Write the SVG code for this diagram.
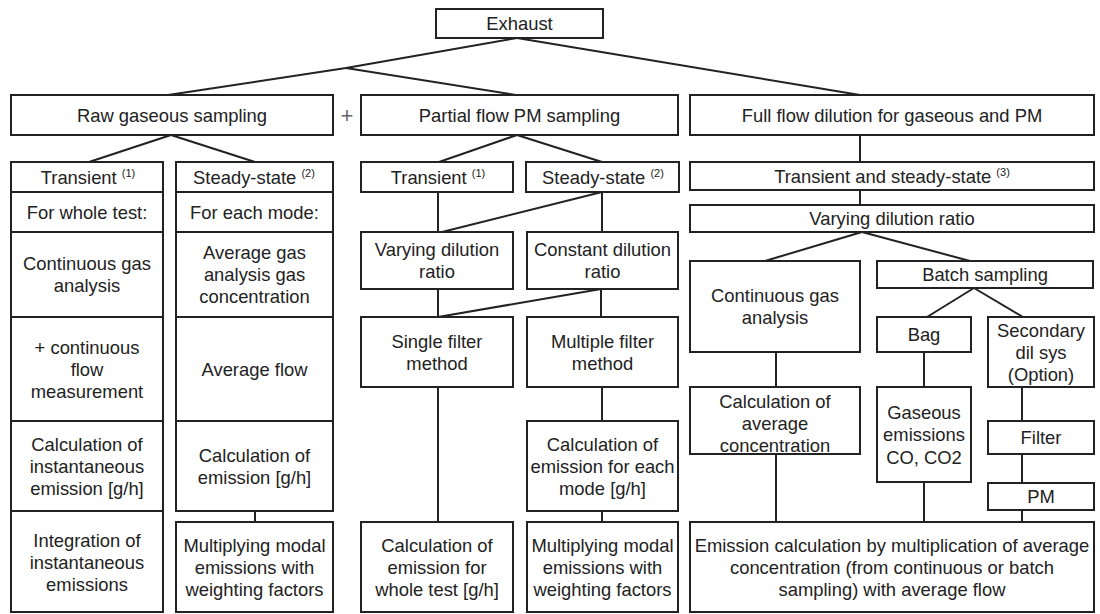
<svg xmlns="http://www.w3.org/2000/svg" width="1100" height="614" viewBox="0 0 1100 614">
<style>
rect.b{fill:#fff;stroke:#222;stroke-width:2}
text{font-family:"Liberation Sans",Arial,sans-serif;font-size:18.4px;fill:#222;text-anchor:middle}
tspan.sup{font-size:11px}
#connectors line{stroke:#222;stroke-width:2;fill:none}
.plus{font-size:22px;fill:#666}
</style>
<rect width="1100" height="614" fill="#fff"/>
<g id="connectors">
<line x1="517" y1="38" x2="346" y2="68"/>
<line x1="346" y1="68" x2="168" y2="95"/>
<line x1="346" y1="68" x2="516" y2="95"/>
<line x1="517" y1="38" x2="860" y2="95"/>
<line x1="171" y1="135" x2="89" y2="162"/>
<line x1="171" y1="135" x2="255" y2="162"/>
<line x1="517" y1="135" x2="439" y2="162"/>
<line x1="517" y1="135" x2="602" y2="162"/>
<line x1="860" y1="135" x2="860" y2="162"/>
<line x1="860" y1="190" x2="860" y2="205"/>
<line x1="438" y1="192" x2="438" y2="232"/>
<line x1="602" y1="192" x2="602" y2="232"/>
<line x1="602" y1="192" x2="442" y2="232"/>
<line x1="438" y1="289" x2="438" y2="317"/>
<line x1="601" y1="289" x2="601" y2="317"/>
<line x1="601" y1="289" x2="438" y2="317"/>
<line x1="438" y1="387" x2="438" y2="522"/>
<line x1="602" y1="387" x2="602" y2="421"/>
<line x1="602" y1="511" x2="602" y2="522"/>
<line x1="255" y1="511" x2="255" y2="522"/>
<line x1="862" y1="232" x2="765" y2="261"/>
<line x1="862" y1="232" x2="970" y2="261"/>
<line x1="974" y1="288" x2="927" y2="317"/>
<line x1="974" y1="288" x2="1023" y2="317"/>
<line x1="776" y1="352" x2="776" y2="387"/>
<line x1="924" y1="352" x2="924" y2="387"/>
<line x1="1022" y1="387" x2="1022" y2="421"/>
<line x1="1022" y1="454" x2="1022" y2="483"/>
<line x1="1022" y1="510" x2="1022" y2="522"/>
<line x1="776" y1="454" x2="776" y2="522"/>
<line x1="924" y1="482" x2="924" y2="522"/>
</g>
<g id="exhaust"><rect class="b" x="436" y="9" width="167" height="29"/><text x="519.5" y="30">Exhaust</text></g>
<g id="raw"><rect class="b" x="11" y="95" width="322" height="40"/><text x="172" y="121.5">Raw gaseous sampling</text></g>
<text class="plus" x="347" y="123">+</text>
<g id="partial"><rect class="b" x="361" y="95" width="317" height="40"/><text x="519.5" y="121.5">Partial flow PM sampling</text></g>
<g id="fullflow"><rect class="b" x="690" y="95" width="404" height="40"/><text x="892" y="121.5">Full flow dilution for gaseous and PM</text></g>

<g id="raw-transient"><rect class="b" x="11" y="162" width="152" height="30"/><text x="88" y="183.5">Transient <tspan class="sup" dy="-7">(1)</tspan></text></g>
<g id="raw-steady"><rect class="b" x="176" y="162" width="157" height="30"/><text x="254" y="183.5">Steady-state <tspan class="sup" dy="-7">(2)</tspan></text></g>
<g id="pf-transient"><rect class="b" x="361" y="162" width="152" height="30"/><text x="438" y="183.5">Transient <tspan class="sup" dy="-7">(1)</tspan></text></g>
<g id="pf-steady"><rect class="b" x="526" y="162" width="153" height="30"/><text x="603" y="183.5">Steady-state <tspan class="sup" dy="-7">(2)</tspan></text></g>
<g id="ff-transient"><rect class="b" x="690" y="162" width="404" height="28"/><text x="892" y="182.5">Transient and steady-state <tspan class="sup" dy="-7">(3)</tspan></text></g>

<g id="whole-test"><rect class="b" x="11" y="192" width="152" height="40"/><text x="87" y="218.5">For whole test:</text></g>
<g id="cont-gas"><rect class="b" x="11" y="232" width="152" height="85"/><text x="87" y="269.5">Continuous gas</text><text x="87" y="291.5">analysis</text></g>
<g id="cont-flow"><rect class="b" x="11" y="317" width="152" height="104"/><text x="87" y="353.5">+ continuous</text><text x="87" y="375.5">flow</text><text x="87" y="397.5">measurement</text></g>
<g id="calc-inst"><rect class="b" x="11" y="421" width="152" height="90"/><text x="87" y="450.5">Calculation of</text><text x="87" y="472.5">instantaneous</text><text x="87" y="494.5">emission [g/h]</text></g>
<g id="integration"><rect class="b" x="11" y="511" width="152" height="101"/><text x="87" y="546.5">Integration of</text><text x="87" y="568.5">instantaneous</text><text x="87" y="590.5">emissions</text></g>

<g id="each-mode"><rect class="b" x="176" y="192" width="157" height="40"/><text x="254.5" y="218.5">For each mode:</text></g>
<g id="avg-gas"><rect class="b" x="176" y="232" width="157" height="85"/><text x="254.5" y="258.5">Average gas</text><text x="254.5" y="280.5">analysis gas</text><text x="254.5" y="302.5">concentration</text></g>
<g id="avg-flow"><rect class="b" x="176" y="317" width="157" height="104"/><text x="254.5" y="375.5">Average flow</text></g>
<g id="calc-em"><rect class="b" x="176" y="421" width="157" height="90"/><text x="254.5" y="461.5">Calculation of</text><text x="254.5" y="483.5">emission [g/h]</text></g>
<g id="mult-raw"><rect class="b" x="176" y="522" width="157" height="90"/><text x="254.5" y="551.5">Multiplying modal</text><text x="254.5" y="573.5">emissions with</text><text x="254.5" y="595.5">weighting factors</text></g>

<g id="pf-varying"><rect class="b" x="361" y="232" width="152" height="57"/><text x="437" y="256">Varying dilution</text><text x="437" y="278">ratio</text></g>
<g id="pf-constant"><rect class="b" x="527" y="232" width="151" height="57"/><text x="602.5" y="256">Constant dilution</text><text x="602.5" y="278">ratio</text></g>
<g id="single-filter"><rect class="b" x="361" y="317" width="152" height="70"/><text x="437" y="347.5">Single filter</text><text x="437" y="369.5">method</text></g>
<g id="multi-filter"><rect class="b" x="527" y="317" width="151" height="70"/><text x="602.5" y="347.5">Multiple filter</text><text x="602.5" y="369.5">method</text></g>
<g id="calc-mode"><rect class="b" x="527" y="421" width="151" height="90"/><text x="602.5" y="450.5">Calculation of</text><text x="602.5" y="472.5">emission for each</text><text x="602.5" y="494.5">mode [g/h]</text></g>
<g id="calc-whole"><rect class="b" x="361" y="522" width="152" height="90"/><text x="437" y="551.5">Calculation of</text><text x="437" y="573.5">emission for</text><text x="437" y="595.5">whole test [g/h]</text></g>
<g id="mult-pf"><rect class="b" x="527" y="522" width="151" height="90"/><text x="602.5" y="551.5">Multiplying modal</text><text x="602.5" y="573.5">emissions with</text><text x="602.5" y="595.5">weighting factors</text></g>

<g id="ff-varying"><rect class="b" x="690" y="205" width="404" height="27"/><text x="892" y="225">Varying dilution ratio</text></g>
<g id="ff-cont-gas"><rect class="b" x="690" y="261" width="170" height="91"/><text x="775" y="301.5">Continuous gas</text><text x="775" y="323.5">analysis</text></g>
<g id="batch"><rect class="b" x="877" y="261" width="216" height="27"/><text x="985" y="281">Batch sampling</text></g>
<g id="bag"><rect class="b" x="877" y="317" width="94" height="35"/><text x="924" y="341">Bag</text></g>
<g id="secondary"><rect class="b" x="988" y="317" width="106" height="70"/><text x="1041" y="336.5">Secondary</text><text x="1041" y="358.5">dil sys</text><text x="1041" y="380.5">(Option)</text></g>
<g id="calc-avg"><rect class="b" x="690" y="387" width="170" height="67"/><text x="775" y="407.5">Calculation of</text><text x="775" y="429.5">average</text><text x="775" y="451.5">concentration</text></g>
<g id="gaseous"><rect class="b" x="877" y="387" width="94" height="95"/><text x="924" y="418.5">Gaseous</text><text x="924" y="441">emissions</text><text x="924" y="463.5">CO, CO2</text></g>
<g id="filter"><rect class="b" x="988" y="421" width="106" height="33"/><text x="1041" y="444">Filter</text></g>
<g id="pm"><rect class="b" x="988" y="483" width="106" height="27"/><text x="1041" y="503">PM</text></g>
<g id="emission-calc"><rect class="b" x="690" y="522" width="404" height="90"/><text x="892" y="551.5">Emission calculation by multiplication of average</text><text x="892" y="573.5">concentration (from continuous or batch</text><text x="892" y="595.5">sampling) with average flow</text></g>
</svg>
